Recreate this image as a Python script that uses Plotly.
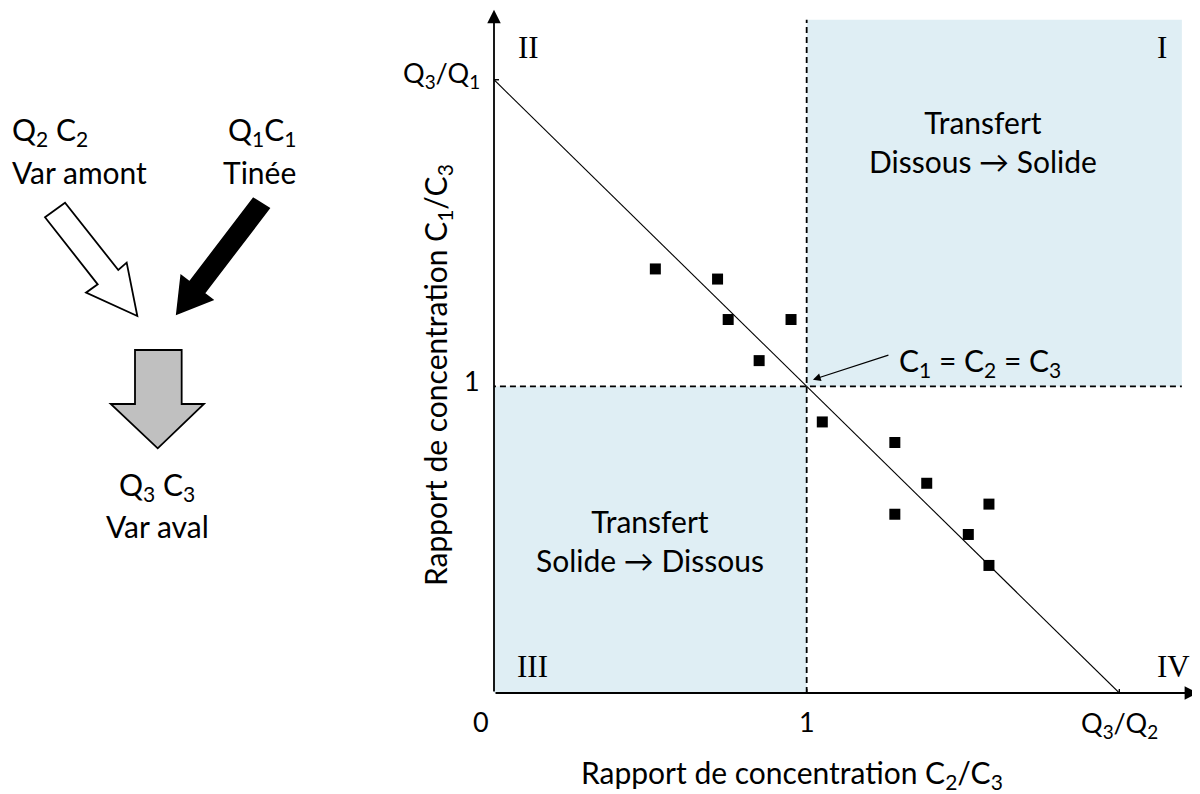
import plotly.graph_objects as go

# Données
ratio_c2_c3 = [0.516, 0.715, 0.749, 0.950, 0.848, 1.050, 1.282, 1.384, 1.282, 1.583, 1.517, 1.583]
ratio_c1_c3 = [1.383, 1.350, 1.218, 1.218, 1.084, 0.884, 0.817, 0.684, 0.583, 0.616, 0.517, 0.416]
q3_sur_q2 = 2.0
q3_sur_q1 = 2.0
x_ticks = [0, 1, q3_sur_q2]
x_tick_labels = ['0', '1', 'Q<sub>3</sub>/Q<sub>2</sub>']
y_ticks = [1, q3_sur_q1]
y_tick_labels = ['1', 'Q<sub>3</sub>/Q<sub>1</sub>']
quadrants = ['I', 'II', 'III', 'IV']

FONT = 'Lato'
BLUE = '#DFEEF4'
# la page HTML a une marge de 8 px : on décale tout de 8 px
OFF = 8
L, T, B = 494, 8, 101
W, H = 1200 - L, 794 - T - B
XMAX, YMAX = 2.258, 2.234
XTOP, YTOP = 2.2, 2.196
FS = 30
FS_TICK = 27


def px(x):
    return (x - L) / W


def py(y):
    return (794 - B - y) / H


def path(points):
    return 'M ' + ' L '.join(f'{px(a):.4f},{py(b):.4f}' for a, b in points) + ' Z'


def label(x, y, text, xref='paper', yref='paper', size=FS, xanchor='center', **kw):
    fig.add_annotation(x=x, y=y, xref=xref, yref=yref, text=text, showarrow=False,
                       xanchor=xanchor, yanchor='middle', font=dict(size=size), **kw)


fig = go.Figure()

# zones colorées
fig.add_shape(type='rect', x0=1, x1=XTOP, y0=1, y1=YTOP, fillcolor=BLUE, line_width=0, layer='below')
fig.add_shape(type='rect', x0=0, x1=1, y0=0, y1=1, fillcolor=BLUE, line_width=0, layer='below')

# droites pointillées
fig.add_shape(type='line', x0=1, x1=1, y0=0, y1=YTOP, line=dict(color='black', width=1.8, dash='6px,4px'))
fig.add_shape(type='line', x0=-0.013, x1=XTOP, y0=1, y1=1, line=dict(color='black', width=1.8, dash='6px,4px'))

# droite de mélange
fig.add_trace(go.Scatter(
    x=[0, q3_sur_q2], y=[q3_sur_q1, 0], mode='lines',
    line=dict(color='black', width=1.1), hoverinfo='skip'
))

# points
fig.add_trace(go.Scatter(
    x=ratio_c2_c3, y=ratio_c1_c3, mode='markers',
    marker=dict(symbol='square', size=11, color='black')
))

# axes avec flèches
fig.add_annotation(x=2.252, y=0, ax=0, ay=0, axref='x', ayref='y', xref='x', yref='y',
                   text='', showarrow=True, arrowhead=2, arrowsize=1.5, arrowwidth=1.8, arrowcolor='black')
fig.add_annotation(x=0, y=2.228, ax=0, ay=0, axref='x', ayref='y', xref='x', yref='y',
                   text='', showarrow=True, arrowhead=2, arrowsize=1.5, arrowwidth=1.8, arrowcolor='black')

# graduations
for xv in x_ticks[1:]:
    fig.add_shape(type='line', x0=xv, x1=xv, y0=-6, y1=4, xref='x', yref='y',
                  ysizemode='pixel', yanchor=0, line=dict(color='black', width=1.4))
fig.add_shape(type='line', x0=-5, x1=5, y0=q3_sur_q1, y1=q3_sur_q1, xref='x', yref='y',
              xsizemode='pixel', xanchor=0, line=dict(color='black', width=1.4))

# étiquettes des graduations
label(px(481), py(721), x_tick_labels[0], size=FS_TICK)
label(x_ticks[1], py(721), x_tick_labels[1], xref='x', size=FS_TICK)
label(x_ticks[2], py(724), x_tick_labels[2], xref='x', size=FS_TICK)
label(px(482), py(380), y_tick_labels[0], xanchor='right', size=FS_TICK)
label(px(482), py(74), y_tick_labels[1], xanchor='right', size=FS_TICK)

# titres des axes
label(px(792), py(774), 'Rapport de concentration C<sub>2</sub>/C<sub>3</sub>')
label(px(437), py(375), 'Rapport de concentration C<sub>1</sub>/C<sub>3</sub>', textangle=-90)

# chiffres romains des quadrants
for txt, (xr, yr) in zip(quadrants, [(1162, 47), (528, 47), (532, 666), (1173, 666)]):
    fig.add_annotation(x=px(xr), y=py(yr), xref='paper', yref='paper', text=txt, showarrow=False,
                       xanchor='center', yanchor='middle',
                       font=dict(family='Liberation Serif', size=31))

# textes des zones
label(px(983), py(141), 'Transfert<br>Dissous \u2192 Solide', align='center')
label(px(650), py(540), 'Transfert<br>Solide \u2192 Dissous', align='center')

# C1 = C2 = C3
fig.add_annotation(x=1.02, y=1.022, xref='x', yref='y', text='', showarrow=True,
                   ax=77, ay=-25, arrowhead=2, arrowsize=1.3, arrowwidth=1.2, arrowcolor='black')
label(px(980), py(362), 'C<sub>1</sub> = C<sub>2</sub> = C<sub>3</sub>')

# schéma de gauche
fig.add_shape(type='path', xref='paper', yref='paper', layer='above',
              path=path([(45, 217.3), (65, 202.7), (118.3, 270), (126.7, 262.7),
                         (137.3, 316), (86, 292.7), (97.7, 284.3)]),
              fillcolor='white', line=dict(color='black', width=1.8))
fig.add_shape(type='path', xref='paper', yref='paper', layer='above',
              path=path([(253.3, 198.3), (269.3, 208.3), (204.3, 293.2), (212.8, 299.7),
                         (176.7, 314), (181.1, 275.4), (189.5, 281.9)]),
              fillcolor='black', line=dict(color='black', width=1.5))
fig.add_shape(type='path', xref='paper', yref='paper', layer='above',
              path=path([(135, 350), (181.7, 350), (181.7, 404), (204, 404),
                         (157.7, 448.3), (110.7, 404), (135, 404)]),
              fillcolor='#C0C0C0', line=dict(color='black', width=1.8))

label(px(10), py(131), 'Q<sub>2</sub> C<sub>2</sub>', xanchor='left')
label(px(10), py(172), 'Var amont', xanchor='left')
label(px(298), py(131), 'Q<sub>1</sub>C<sub>1</sub>', xanchor='right')
label(px(298), py(172), 'Tinée', xanchor='right')
label(px(157), py(486), 'Q<sub>3</sub> C<sub>3</sub>')
label(px(157), py(526), 'Var aval')

fig.update_xaxes(range=[0, XMAX], visible=False)
fig.update_yaxes(range=[0, YMAX], visible=False)
fig.update_layout(
    width=1200 - OFF, height=794 - OFF,
    margin=dict(l=L - OFF, r=0, t=T - OFF, b=B),
    plot_bgcolor='white', paper_bgcolor='white',
    showlegend=False,
    font=dict(family=FONT, color='black'),
)

fig.write_html('out.html')
